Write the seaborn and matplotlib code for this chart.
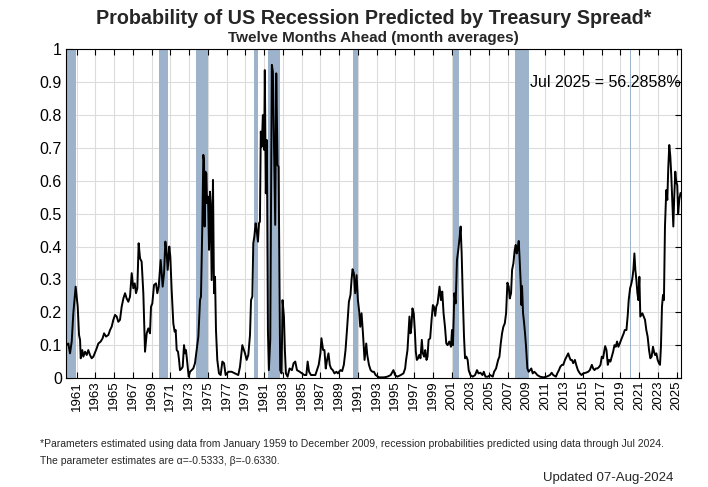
import matplotlib
matplotlib.use("Agg")
import matplotlib.pyplot as plt
import seaborn as sns
import pandas as pd

# ---------------- data ----------------
years = [
    1959.93, 1960.11, 1960.29, 1960.47, 1960.64, 1960.89, 1961.11, 1961.25, 1961.36, 1961.43,
    1961.60, 1961.71, 1961.89, 1962.07, 1962.24, 1962.42, 1962.60, 1962.78, 1963.13, 1963.31,
    1963.56, 1963.77, 1963.92, 1964.13, 1964.38, 1964.56, 1964.73, 1964.91, 1965.09, 1965.27,
    1965.44, 1965.62, 1965.80, 1965.98, 1966.16, 1966.33, 1966.51, 1966.69, 1966.87, 1967.04,
    1967.19, 1967.33, 1967.47, 1967.61, 1967.76, 1967.93, 1968.11, 1968.29, 1968.47, 1968.64,
    1968.82, 1968.93, 1969.07, 1969.25, 1969.46, 1969.60, 1969.75, 1969.96, 1970.07, 1970.17,
    1970.32, 1970.46, 1970.60, 1970.71, 1970.88, 1970.99, 1971.13, 1971.31, 1971.45, 1971.56,
    1971.67, 1971.81, 1971.92, 1972.02, 1972.20, 1972.31, 1972.45, 1972.56, 1972.66, 1972.80,
    1972.95, 1973.09, 1973.44, 1973.62, 1973.80, 1973.98, 1974.16, 1974.26, 1974.40, 1974.51,
    1974.58, 1974.65, 1974.72, 1974.83, 1974.90, 1975.01, 1975.12, 1975.22, 1975.29, 1975.40,
    1975.54, 1975.65, 1975.76, 1975.86, 1976.00, 1976.18, 1976.36, 1976.54, 1976.72, 1976.89,
    1977.18, 1977.53, 1977.89, 1978.24, 1978.42, 1978.67, 1978.85, 1978.96, 1979.13, 1979.31,
    1979.49, 1979.60, 1979.74, 1979.84, 1979.95, 1980.09, 1980.20, 1980.34, 1980.45, 1980.55,
    1980.64, 1980.75, 1980.86, 1981.00, 1981.07, 1981.18, 1981.29, 1981.40, 1981.50, 1981.65,
    1981.82, 1981.93, 1982.07, 1982.18, 1982.29, 1982.43, 1982.54, 1982.71, 1982.86, 1982.96,
    1983.11, 1983.21, 1983.32, 1983.50, 1983.71, 1983.96, 1984.14, 1984.32, 1984.50, 1984.79,
    1985.04, 1985.29, 1985.50, 1985.64, 1985.79, 1986.00, 1986.46, 1986.82, 1987.00, 1987.11,
    1987.29, 1987.43, 1987.57, 1987.71, 1987.86, 1988.00, 1988.14, 1988.32, 1988.50, 1988.71,
    1988.86, 1989.00, 1989.14, 1989.32, 1989.50, 1989.68, 1989.86, 1990.04, 1990.21, 1990.32,
    1990.43, 1990.57, 1990.71, 1990.86, 1991.00, 1991.14, 1991.25, 1991.39, 1991.54, 1991.71,
    1991.89, 1992.00, 1992.18, 1992.36, 1992.54, 1992.71, 1992.89, 1993.25, 1993.79, 1994.14,
    1994.50, 1994.79, 1994.96, 1995.21, 1995.57, 1995.86, 1996.04, 1996.14, 1996.29, 1996.39,
    1996.50, 1996.61, 1996.71, 1996.82, 1996.96, 1997.07, 1997.18, 1997.29, 1997.43, 1997.54,
    1997.68, 1997.82, 1997.93, 1998.07, 1998.18, 1998.32, 1998.43, 1998.54, 1998.71, 1998.86,
    1999.00, 1999.11, 1999.25, 1999.36, 1999.50, 1999.71, 1999.86, 2000.00, 2000.14, 2000.29,
    2000.43, 2000.57, 2000.75, 2000.93, 2001.04, 2001.14, 2001.29, 2001.43, 2001.57, 2001.71,
    2001.86, 2001.96, 2002.07, 2002.18, 2002.32, 2002.43, 2002.57, 2002.71, 2002.82, 2003.00,
    2003.25, 2003.50, 2003.71, 2003.86, 2004.07, 2004.29, 2004.43, 2004.61, 2004.86, 2005.11,
    2005.39, 2005.53, 2005.74, 2005.96, 2006.10, 2006.24, 2006.38, 2006.52, 2006.67, 2006.81,
    2006.95, 2007.09, 2007.20, 2007.34, 2007.45, 2007.59, 2007.73, 2007.84, 2007.94, 2008.05,
    2008.16, 2008.26, 2008.37, 2008.44, 2008.51, 2008.62, 2008.72, 2008.83, 2008.94, 2009.08,
    2009.22, 2009.36, 2009.50, 2009.65, 2009.82, 2010.00, 2010.14, 2010.43, 2010.78, 2011.13,
    2011.49, 2011.67, 2011.84, 2012.13, 2012.27, 2012.45, 2012.59, 2012.77, 2012.91, 2013.09,
    2013.26, 2013.44, 2013.55, 2013.69, 2013.83, 2013.97, 2014.15, 2014.29, 2014.47, 2014.68,
    2014.86, 2015.04, 2015.32, 2015.57, 2015.74, 2015.96, 2016.10, 2016.24, 2016.38, 2016.56,
    2016.74, 2016.88, 2017.02, 2017.16, 2017.27, 2017.38, 2017.52, 2017.66, 2017.80, 2017.94,
    2018.09, 2018.23, 2018.37, 2018.51, 2018.65, 2018.79, 2018.94, 2019.08, 2019.22, 2019.36,
    2019.47, 2019.65, 2019.79, 2019.89, 2020.04, 2020.18, 2020.28, 2020.39, 2020.50, 2020.60,
    2020.71, 2020.82, 2020.92, 2021.03, 2021.13, 2021.24, 2021.35, 2021.49, 2021.63, 2021.77,
    2021.91, 2022.06, 2022.20, 2022.34, 2022.48, 2022.59, 2022.70, 2022.84, 2022.98, 2023.12,
    2023.23, 2023.33, 2023.44, 2023.55, 2023.65, 2023.76, 2023.90, 2024.01, 2024.11, 2024.22,
    2024.33, 2024.43, 2024.54, 2024.65, 2024.75, 2024.86, 2024.96, 2025.07, 2025.17, 2025.28,
    2025.42,
]
prob = [
    0.100, 0.105, 0.075, 0.111, 0.197, 0.278, 0.217, 0.131, 0.116, 0.060,
    0.085, 0.065, 0.080, 0.070, 0.085, 0.070, 0.060, 0.065, 0.090, 0.105,
    0.111, 0.121, 0.136, 0.126, 0.131, 0.146, 0.156, 0.177, 0.192, 0.187,
    0.171, 0.177, 0.217, 0.242, 0.258, 0.242, 0.232, 0.248, 0.319, 0.273,
    0.288, 0.258, 0.273, 0.410, 0.364, 0.354, 0.258, 0.080, 0.136, 0.151,
    0.136, 0.217, 0.227, 0.283, 0.288, 0.258, 0.278, 0.359, 0.319, 0.278,
    0.319, 0.415, 0.379, 0.329, 0.400, 0.369, 0.268, 0.166, 0.141, 0.146,
    0.085, 0.080, 0.055, 0.024, 0.029, 0.034, 0.100, 0.075, 0.085, 0.045,
    0.004, 0.019, 0.029, 0.045, 0.085, 0.126, 0.237, 0.248, 0.461, 0.679,
    0.663, 0.461, 0.628, 0.623, 0.532, 0.552, 0.390, 0.567, 0.532, 0.298,
    0.603, 0.258, 0.308, 0.146, 0.055, 0.014, 0.009, 0.050, 0.045, 0.009,
    0.019, 0.019, 0.014, 0.009, 0.034, 0.100, 0.085, 0.075, 0.055, 0.070,
    0.131, 0.237, 0.248, 0.410, 0.430, 0.471, 0.450, 0.415, 0.471, 0.476,
    0.750, 0.704, 0.800, 0.694, 0.937, 0.562, 0.724, 0.146, 0.024, 0.116,
    0.953, 0.932, 0.663, 0.466, 0.927, 0.648, 0.643, 0.024, 0.014, 0.237,
    0.187, 0.085, 0.014, 0.004, 0.029, 0.024, 0.045, 0.050, 0.024, 0.019,
    0.014, 0.009, 0.009, 0.050, 0.019, 0.009, 0.009, 0.040, 0.075, 0.121,
    0.085, 0.085, 0.029, 0.055, 0.075, 0.040, 0.029, 0.024, 0.014, 0.019,
    0.014, 0.019, 0.024, 0.021, 0.040, 0.085, 0.156, 0.232, 0.253, 0.298,
    0.331, 0.319, 0.258, 0.313, 0.237, 0.202, 0.156, 0.197, 0.136, 0.055,
    0.105, 0.070, 0.040, 0.024, 0.019, 0.019, 0.009, 0.002, 0.002, 0.004,
    0.009, 0.024, 0.009, 0.004, 0.009, 0.014, 0.029, 0.055, 0.085, 0.136,
    0.187, 0.136, 0.156, 0.212, 0.197, 0.146, 0.080, 0.055, 0.060, 0.070,
    0.060, 0.116, 0.075, 0.065, 0.085, 0.055, 0.065, 0.116, 0.121, 0.177,
    0.222, 0.217, 0.189, 0.217, 0.227, 0.278, 0.237, 0.263, 0.197, 0.156,
    0.105, 0.100, 0.111, 0.095, 0.146, 0.100, 0.258, 0.227, 0.359, 0.390,
    0.430, 0.461, 0.379, 0.258, 0.126, 0.060, 0.065, 0.055, 0.024, 0.009,
    0.004, 0.009, 0.024, 0.014, 0.016, 0.009, 0.019, 0.004, 0.004, 0.009,
    0.004, 0.019, 0.029, 0.055, 0.065, 0.105, 0.136, 0.156, 0.166, 0.197,
    0.290, 0.278, 0.242, 0.258, 0.329, 0.349, 0.390, 0.405, 0.379, 0.395,
    0.417, 0.359, 0.288, 0.222, 0.280, 0.197, 0.171, 0.136, 0.095, 0.029,
    0.019, 0.024, 0.029, 0.014, 0.019, 0.014, 0.009, 0.004, 0.002, 0.004,
    0.009, 0.016, 0.009, 0.004, 0.014, 0.024, 0.034, 0.040, 0.040, 0.055,
    0.065, 0.075, 0.065, 0.055, 0.055, 0.045, 0.055, 0.040, 0.024, 0.014,
    0.009, 0.014, 0.016, 0.019, 0.024, 0.040, 0.029, 0.024, 0.029, 0.029,
    0.034, 0.040, 0.065, 0.060, 0.080, 0.097, 0.085, 0.040, 0.055, 0.050,
    0.065, 0.080, 0.100, 0.095, 0.111, 0.095, 0.105, 0.116, 0.126, 0.136,
    0.146, 0.146, 0.192, 0.237, 0.273, 0.288, 0.303, 0.329, 0.379, 0.329,
    0.298, 0.258, 0.237, 0.308, 0.187, 0.192, 0.197, 0.187, 0.177, 0.146,
    0.126, 0.085, 0.060, 0.065, 0.095, 0.080, 0.070, 0.075, 0.055, 0.045,
    0.040, 0.095, 0.217, 0.253, 0.237, 0.461, 0.572, 0.542, 0.638, 0.709,
    0.674, 0.618, 0.542, 0.461, 0.552, 0.628, 0.598, 0.587, 0.501, 0.542,
    0.563,
]

# recession bands (start, end) in decimal years
rec_start = [1960.00, 1969.83, 1973.75, 1979.87, 1981.38, 1990.43, 2001.14, 2007.80, 2020.00]
rec_end   = [1960.93, 1970.72, 1975.01, 1980.36, 1982.71, 1991.04, 2001.79, 2009.22, 2020.12]

x_ticks = list(range(1961, 2026, 2))
y_ticks = [0, 0.1, 0.2, 0.3, 0.4, 0.5, 0.6, 0.7, 0.8, 0.9, 1]
y_tick_labels = ["0", "0.1", "0.2", "0.3", "0.4", "0.5", "0.6", "0.7", "0.8", "0.9", "1"]

title = "Probability of US Recession Predicted by Treasury Spread*"
subtitle = "Twelve Months Ahead (month averages)"
annotation = "Jul 2025 = 56.2858%"
note1 = ("*Parameters estimated using data from January 1959 to December 2009, "
         "recession probabilities predicted using data through Jul 2024.")
note2 = "The parameter estimates are \u03b1=-0.5333, \u03b2=-0.6330."
updated = "Updated 07-Aug-2024"

# ---------------- styling ----------------
sns.set_style("ticks")
plt.rcParams["font.family"] = ["Liberation Sans", "DejaVu Sans"]

W, H = 708, 487
fig = plt.figure(figsize=(W / 100, H / 100), dpi=100)
ax_left, ax_right, ax_top, ax_bottom = 66, 681, 49.4, 378
ax = fig.add_axes([ax_left / W, 1 - ax_bottom / H,
                   (ax_right - ax_left) / W, (ax_bottom - ax_top) / H])

df = pd.DataFrame({"year": years, "prob": prob})

for s, e in zip(rec_start, rec_end):
    ax.axvspan(s, e, color="#9db3cb", lw=0, zorder=1)

sns.lineplot(data=df, x="year", y="prob", ax=ax, color="black", lw=1.4,
             zorder=3, estimator=None, sort=False)

ax.set_xlim(1959.86, 2025.47)
ax.set_ylim(0, 1)
ax.set_xticks(x_ticks)
ax.set_xticklabels([str(y) for y in x_ticks], rotation=90, fontsize=9.5)
ax.set_yticks(y_ticks)
ax.set_yticklabels(y_tick_labels, fontsize=11.5)
ax.set_xlabel("")
ax.set_ylabel("")
ax.grid(True, color="#dcdcdc", lw=0.8)
ax.set_axisbelow(True)
ax.tick_params(direction="in", top=True, right=True, length=4, width=0.8,
               colors="black", pad=3)
ax.tick_params(axis="x", pad=2)
for sp in ax.spines.values():
    sp.set_color("black")
    sp.set_linewidth(0.8)
    sp.set_visible(True)

ax.text(1.0, 0.9, annotation, transform=ax.transAxes,
        ha="right", va="center", fontsize=11.5, color="black", zorder=4)

cx = (ax_left + ax_right) / 2 / W
fig.text(cx, 1 - 24 / H, title, ha="center", va="baseline",
         fontsize=14.2, fontweight="bold")
fig.text(cx, 1 - 41.7 / H, subtitle, ha="center", va="baseline",
         fontsize=11, fontweight="bold")

fig.text(40 / W, 1 - 447 / H, note1, ha="left", va="baseline", fontsize=7.5)
fig.text(40 / W, 1 - 464 / H, note2, ha="left", va="baseline", fontsize=7.5)
fig.text(543 / W, 1 - 481 / H, updated, ha="left", va="baseline", fontsize=9.5)

fig.savefig("out.png", dpi=100, facecolor="white")
